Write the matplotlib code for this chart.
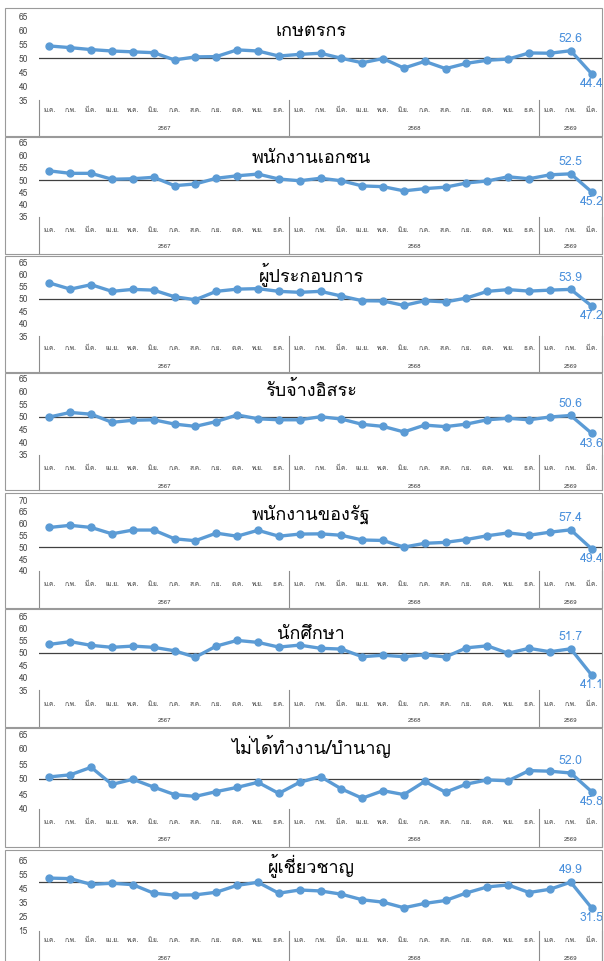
import numpy as np
import matplotlib
matplotlib.use("Agg")
import matplotlib.pyplot as plt
from matplotlib import font_manager
from matplotlib.ft2font import FT2Font
from matplotlib.patches import Rectangle

# pick any installed font that has Thai glyphs
thai_font = None
for f in font_manager.fontManager.ttflist:
    try:
        if 0x0E01 in FT2Font(f.fname).get_charmap():
            thai_font = f.name
            break
    except Exception:
        pass
families = [thai_font, "DejaVu Sans"] if thai_font else ["DejaVu Sans"]
plt.rcParams["font.family"] = families

# data
months = ["ม.ค.", "ก.พ.", "มี.ค.", "เม.ย.", "พ.ค.", "มิ.ย.", "ก.ค.", "ส.ค.", "ก.ย.", "ต.ค.", "พ.ย.", "ธ.ค."]
month_labels = months + months + months[:3]
years = ["2567", "2568", "2569"]
year_lengths = [12, 12, 3]

titles = ["เกษตรกร", "พนักงานเอกชน", "ผู้ประกอบการ", "รับจ้างอิสระ",
          "พนักงานของรัฐ", "นักศึกษา", "ไม่ได้ทำงาน/บำนาญ", "ผู้เชี่ยวชาญ"]

farmer = [54.3, 53.7, 53.0, 52.5, 52.2, 51.9, 49.3, 50.4, 50.5, 52.9, 52.5, 50.7, 51.3,
          51.7, 49.9, 48.3, 49.8, 46.4, 48.8, 46.2, 48.1, 49.2, 49.6, 51.8, 51.7, 52.6, 44.4]
private = [53.7, 52.7, 52.7, 50.3, 50.5, 51.1, 47.7, 48.4, 50.7, 51.7, 52.4, 50.4, 49.7,
           50.7, 49.7, 47.6, 47.3, 45.6, 46.5, 47.1, 48.8, 49.6, 51.3, 50.5, 52.1, 52.5, 45.2]
business = [56.5, 54.0, 55.8, 53.1, 53.9, 53.6, 50.9, 49.7, 53.1, 54.0, 54.2, 53.1, 52.7,
            53.1, 51.2, 49.3, 49.2, 47.4, 49.3, 48.8, 50.4, 53.1, 53.8, 53.2, 53.6, 53.9, 47.2]
freelance = [50.0, 51.8, 51.1, 47.9, 48.7, 48.9, 47.2, 46.3, 48.2, 50.8, 49.3, 48.9, 48.9,
             50.1, 49.2, 47.1, 46.3, 44.1, 46.8, 46.2, 47.2, 48.9, 49.5, 48.9, 50.0, 50.6, 43.6]
government = [58.4, 59.3, 58.4, 55.7, 57.3, 57.3, 53.6, 52.8, 56.0, 54.7, 57.2, 54.7, 55.6,
              55.7, 55.1, 53.1, 52.9, 50.1, 51.7, 52.1, 53.3, 54.9, 56.1, 55.1, 56.4, 57.4, 49.4]
student = [53.5, 54.6, 53.1, 52.3, 52.8, 52.3, 50.9, 48.3, 52.8, 55.1, 54.3, 52.4, 53.2,
           51.9, 51.6, 48.5, 49.1, 48.5, 49.3, 48.4, 52.1, 52.9, 49.9, 51.9, 50.5, 51.7, 41.1]
unemployed = [50.7, 51.4, 53.9, 48.2, 49.9, 47.3, 44.8, 44.2, 45.8, 47.2, 48.9, 45.2, 48.9,
              50.8, 46.7, 43.6, 46.1, 44.8, 49.2, 45.6, 48.3, 49.7, 49.4, 52.8, 52.6, 52.0, 45.8]
expert = [52.8, 52.4, 48.3, 49.1, 48.1, 42.0, 40.6, 40.8, 42.7, 47.6, 49.8, 42.0, 44.3,
          43.6, 41.3, 37.3, 35.6, 31.6, 34.7, 36.8, 42.2, 46.5, 47.9, 42.5, 44.8, 49.9, 31.5]

series = [farmer, private, business, freelance, government, student, unemployed, expert]
y_limits = [(35, 65, 5), (35, 65, 5), (35, 65, 5), (35, 65, 5),
            (40, 70, 5), (35, 65, 5), (40, 65, 5), (15, 65, 10)]

# layout in pixels: box top, box bottom, plot top, plot bottom, title baseline, month row, year row
layout = [(8, 136, 16, 100, 36, 110, 128),
          (137, 254, 143, 217, 163, 230, 247),
          (256, 372, 262, 336, 281, 348, 366),
          (373, 490, 379, 455, 396, 469, 487),
          (493, 608, 500, 571, 520, 584, 602),
          (609, 727, 616, 690, 639, 705, 720),
          (728, 847, 734, 809, 754, 822, 840),
          (850, 975, 861, 931, 872, 941, 958)]

W, H = 604, 961
left, right = 39, 602
line_color = "#5B9BD5"
label_color = "#4A90DC"

fig = plt.figure(figsize=(W / 100, H / 100), dpi=100)
fig.patch.set_facecolor("white")

n = len(month_labels)
x = np.arange(n)

for vals, title, (ymin, ymax, step), (bt, bb, pt, pb, ty, my, yy) in zip(series, titles, y_limits, layout):
    fig.add_artist(Rectangle((5 / W, 1 - bb / H), (right - 5) / W, (bb - bt) / H,
                             transform=fig.transFigure, fill=False,
                             edgecolor="#9a9a9a", lw=0.8))
    ax = fig.add_axes([left / W, 1 - pb / H, (right - left) / W, (pb - pt) / H])
    ax.set_xlim(-0.5, n - 0.5)
    ax.set_ylim(ymin, ymax)
    for s in ax.spines.values():
        s.set_visible(False)
    ax.set_xticks([])
    ax.set_yticks(np.arange(ymin, ymax + 1, step))
    ax.tick_params(axis="y", length=0, pad=8, labelsize=6, labelcolor="#4a4a4a")
    ax.patch.set_alpha(0)

    ax.axhline(50, color="#404040", lw=0.9, zorder=1)
    ax.plot(x, vals, color=line_color, lw=2.4, marker="o", ms=5, zorder=3)

    ax.annotate(f"{vals[-2]:.1f}", (x[-2], vals[-2]), xytext=(0, 8.5), textcoords="offset points",
                ha="center", va="center", color=label_color, fontsize=8.8, annotation_clip=False)
    ax.annotate(f"{vals[-1]:.1f}", (x[-1], vals[-1]), xytext=(0, -7.5), textcoords="offset points",
                ha="center", va="center", color=label_color, fontsize=8.8, annotation_clip=False)

    fig.text(311 / W, 1 - ty / H, title, ha="center", va="baseline", fontsize=13, color="black")

    # category axis below the plot
    trans = ax.get_xaxis_transform()
    h = pb - pt
    y_month = (pb - my) / h
    y_year = (pb - yy) / h
    y_bottom = (pb - bb) / h
    for i, m in enumerate(month_labels):
        ax.text(x[i], y_month, m, transform=trans, ha="center", va="center",
                fontsize=4.7, color="#404040", clip_on=False)
    start = 0
    edges = [-0.5]
    for yr, k in zip(years, year_lengths):
        ax.text(start + (k - 1) / 2, y_year, yr, transform=trans, ha="center", va="center",
                fontsize=4.4, color="#404040", clip_on=False)
        start += k
        edges.append(start - 0.5)
    for e in edges:
        ax.plot([e, e], [0, y_bottom], transform=trans, color="#8c8c8c", lw=0.8, clip_on=False)

fig.savefig("out.png", dpi=100, facecolor="white")
